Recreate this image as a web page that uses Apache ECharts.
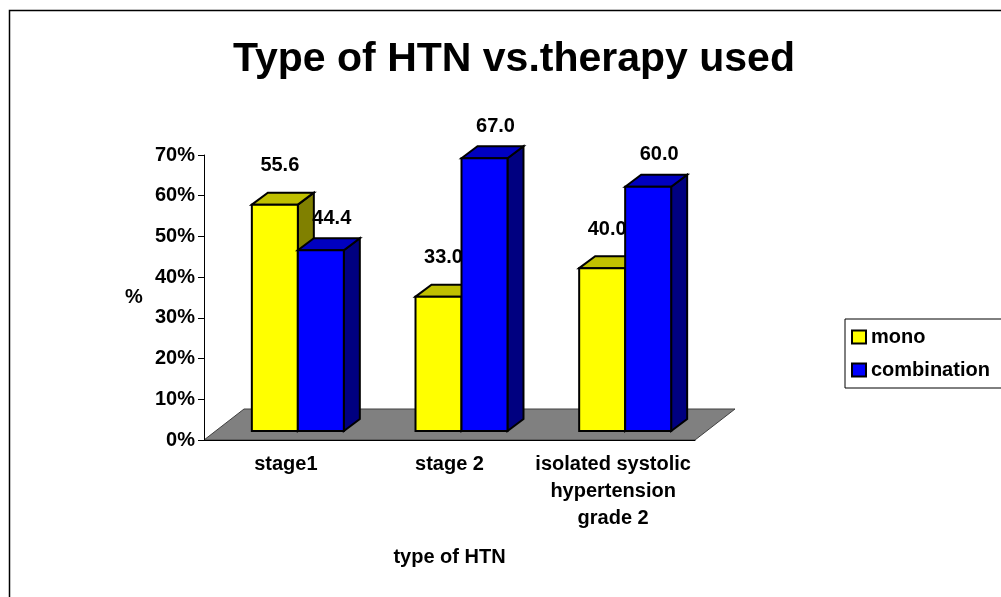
<!DOCTYPE html>
<html>
<head>
<meta charset="utf-8">
<script src="https://cdn.jsdelivr.net/npm/echarts@6/dist/echarts.min.js"></script>
<style>
    html, body { margin: 0; padding: 0; background: #fff; }
    #chart { width: 1001px; height: 597px; }
</style>
</head>
<body>
<div id="chart"></div>
<script>
var categories = ['stage1', 'stage 2', 'isolated systolic\nhypertension\ngrade 2'];
var seriesNames = ['mono', 'combination'];
var monoValues = [55.6, 33.0, 40.0];
var combinationValues = [44.4, 67.0, 60.0];
var yTicks = [0, 10, 20, 30, 40, 50, 60, 70];

var FONT = 'Liberation Sans, Arial, sans-serif';
var FS = 20;

// fake 3d: bars stand a little back on the floor
var SHIFT_X = 12, SHIFT_Y = -9;   // front face of bars vs. front of floor
var DEPTH_X = 16, DEPTH_Y = -12;  // depth of a bar
var FLOOR_X = 40, FLOOR_Y = -31;  // depth of the floor

var faces = [
    { front: '#ffff00', top: '#c0c000', side: '#808000', labelDx: 5, labelDy: -39 },
    { front: '#0000ff', top: '#0000c0', side: '#000080', labelDx: 11, labelDy: -32 }
];

function toPairs(vals) {
    var out = [];
    for (var i = 0; i < vals.length; i++) out.push([i, vals[i]]);
    return out;
}

function poly(points, fill) {
    return {
        type: 'polygon',
        shape: { points: points },
        style: { fill: fill, stroke: '#000', lineWidth: 2, lineJoin: 'miter' }
    };
}

function makeBarRender(idx) {
    return function(params, api) {
        var v = api.value(1);
        var top = api.coord([api.value(0), v]);
        var base = api.coord([api.value(0), 0]);
        var bw = api.size([1, 0])[0] * 0.281;
        var x0 = top[0] + SHIFT_X - (idx === 0 ? bw : 0);
        var x1 = x0 + bw;
        var yt = top[1] + SHIFT_Y;
        var yb = base[1] + SHIFT_Y;
        var f = faces[idx];
        return {
            type: 'group',
            children: [
                poly([[x1, yt], [x1 + DEPTH_X, yt + DEPTH_Y], [x1 + DEPTH_X, yb + DEPTH_Y], [x1, yb]], f.side),
                poly([[x0, yt], [x0 + DEPTH_X, yt + DEPTH_Y], [x1 + DEPTH_X, yt + DEPTH_Y], [x1, yt]], f.top),
                poly([[x0, yt], [x1, yt], [x1, yb], [x0, yb]], f.front),
                {
                    type: 'text',
                    style: {
                        text: v.toFixed(1),
                        x: (x0 + x1) / 2 + f.labelDx,
                        y: yt + f.labelDy,
                        align: 'center',
                        verticalAlign: 'middle',
                        font: 'bold ' + FS + 'px ' + FONT,
                        fill: '#000'
                    }
                }
            ]
        };
    };
}

function floorRender(params, api) {
    var cs = params.coordSys;
    var y0 = api.coord([0, 0])[1];
    var xl = cs.x, xr = cs.x + cs.width;
    return {
        type: 'polygon',
        shape: { points: [[xl, y0], [xr, y0], [xr + FLOOR_X, y0 + FLOOR_Y], [xl + FLOOR_X, y0 + FLOOR_Y]] },
        style: { fill: '#808080', stroke: '#404040', lineWidth: 1 }
    };
}

var chart = echarts.init(document.getElementById('chart'));

var option = {
    backgroundColor: '#fff',
    animation: false,
    title: {
        text: 'Type of HTN vs.therapy used',
        left: 233,
        top: 39,
        padding: 0,
        textStyle: { fontFamily: FONT, fontSize: 41, fontWeight: 'bold', color: '#000' }
    },
    graphic: [{
        type: 'rect',
        shape: { x: 9.5, y: 10.5, width: 1100, height: 700 },
        style: { fill: 'none', stroke: '#000', lineWidth: 1.5 },
        silent: true
    }],
    legend: {
        orient: 'vertical',
        left: 845,
        top: 319,
        data: seriesNames,
        icon: 'rect',
        itemWidth: 14,
        itemHeight: 13,
        itemGap: 13,
        padding: [8, 60, 8, 6],
        borderColor: '#000',
        borderWidth: 1,
        textStyle: { fontFamily: FONT, fontSize: FS, fontWeight: 'bold', color: '#000' }
    },
    grid: { left: 204, top: 155, width: 491, height: 285 },
    xAxis: {
        type: 'category',
        data: categories,
        z: 5,
        name: 'type of HTN',
        nameLocation: 'middle',
        nameGap: 117,
        nameTextStyle: { fontFamily: FONT, fontSize: FS, fontWeight: 'bold', color: '#000', verticalAlign: 'middle' },
        axisLine: { lineStyle: { color: '#000', width: 1 } },
        axisTick: { length: 7, lineStyle: { color: '#000' } },
        axisLabel: { margin: 11, lineHeight: 27, interval: 0, fontFamily: FONT, fontSize: FS, fontWeight: 'bold', color: '#000' }
    },
    yAxis: {
        type: 'value',
        min: yTicks[0],
        max: yTicks[yTicks.length - 1],
        interval: yTicks[1] - yTicks[0],
        z: 5,
        name: '%',
        nameLocation: 'middle',
        nameRotate: 0,
        nameGap: 70,
        nameTextStyle: { fontFamily: FONT, fontSize: FS, fontWeight: 'bold', color: '#000', align: 'center', verticalAlign: 'middle' },
        axisLine: { show: true, lineStyle: { color: '#000', width: 1 } },
        axisTick: { show: true, length: 6, lineStyle: { color: '#000' } },
        splitLine: { show: false },
        axisLabel: { margin: 9, formatter: '{value}%', fontFamily: FONT, fontSize: FS, fontWeight: 'bold', color: '#000' }
    },
    series: [
        {
            name: 'floor',
            type: 'custom',
            renderItem: floorRender,
            data: [[0, 0]],
            silent: true,
            z: 1
        },
        {
            name: seriesNames[0],
            type: 'custom',
            renderItem: makeBarRender(0),
            itemStyle: { color: faces[0].front, borderColor: '#000', borderWidth: 1.5 },
            data: toPairs(monoValues),
            z: 2
        },
        {
            name: seriesNames[1],
            type: 'custom',
            renderItem: makeBarRender(1),
            itemStyle: { color: faces[1].front, borderColor: '#000', borderWidth: 1.5 },
            data: toPairs(combinationValues),
            z: 2
        }
    ]
};

chart.setOption(option);
</script>
</body>
</html>
